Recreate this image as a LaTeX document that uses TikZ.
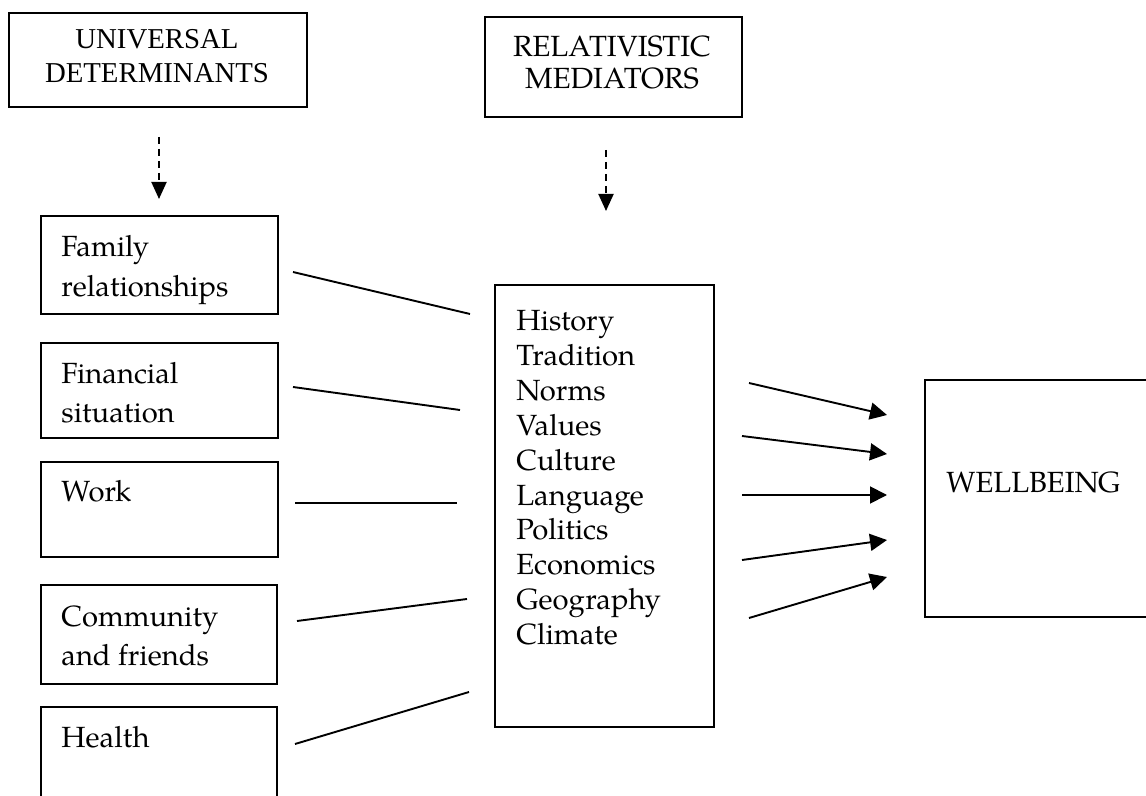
\documentclass[tikz,border=0pt]{standalone}
\usepackage{fontspec}
\setmainfont{TeX Gyre Pagella}
\newfontfamily\timesfont{Liberation Serif}
\usetikzlibrary{arrows.meta}
\tikzset{
  box/.style={draw, line width=1pt, rectangle, inner sep=0pt, anchor=north west},
  txt/.style={inner sep=0pt, anchor=base west, font=\fontsize{14.6}{17.4}\selectfont},
  ctxt/.style={inner sep=0pt, anchor=base, font=\fontsize{14.6}{17.4}\selectfont},
  ttxt/.style={inner sep=0pt, anchor=base, font=\timesfont\fontsize{14.4}{17}\selectfont},
  conn/.style={line width=0.95pt},
  arr/.style={line width=0.95pt, -{Triangle[length=8.5pt,width=8.5pt]}},
  darr/.style={line width=0.95pt, dash pattern=on 3.5pt off 2.5pt, -{Triangle[length=8.5pt,width=7.5pt]}}
}
\begin{document}
\begin{tikzpicture}[x=0.5pt,y=-0.5pt]
\useasboundingbox (0,0) rectangle (1146,796);
\clip (0,0) rectangle (1146,796);
% top boxes
\node[box, minimum width=149pt, minimum height=47pt] (ud) at (8,12) {};
\node[ttxt] (udt1) at (157,49) {UNIVERSAL};
\node[ttxt] (udt2) at (157,83) {DETERMINANTS};
\node[box, minimum width=128.5pt, minimum height=50pt] (rm) at (484,16) {};
\node[ctxt] (rmt1) at (612,57) {RELATIVISTIC};
\node[ctxt] (rmt2) at (612,89) {MEDIATORS};
% dashed arrows
\coordinate (uda) at (159,137);
\coordinate (udb) at (159,199);
\draw[darr] (uda) -- (udb);
\coordinate (rma) at (606,150);
\coordinate (rmb) at (606,211);
\draw[darr] (rma) -- (rmb);
% left boxes
\node[box, minimum width=118.5pt, minimum height=49pt] (fam) at (40,215) {};
\node[txt] (famt1) at (61,257) {Family};
\node[txt] (famt2) at (61,297) {relationships};
\node[box, minimum width=118.5pt, minimum height=47.5pt] (fin) at (40,342) {};
\node[txt] (fint1) at (61,384) {Financial};
\node[txt] (fint2) at (61,423) {situation};
\node[box, minimum width=118.5pt, minimum height=47.5pt] (work) at (40,461) {};
\node[txt] (workt1) at (61,502) {Work};
\node[box, minimum width=118pt, minimum height=49.5pt] (com) at (40,584) {};
\node[txt] (comt1) at (61,626) {Community};
\node[txt] (comt2) at (61,665) {and friends};
\node[box, minimum width=118pt, minimum height=60pt] (hea) at (40,706) {};
\node[txt] (heat1) at (61,747) {Health};
% middle box
\node[box, minimum width=109.5pt, minimum height=221pt] (mid) at (494,284) {};
\foreach \t [count=\i from 0] in {History,Tradition,Norms,Values,Culture,Language,Politics,Economics,Geography,Climate}
  \node[txt] (m\i) at (516,{331+\i*34.8}) {\t};
% right box
\node[box, minimum width=130pt, minimum height=118.5pt] (wb) at (924,379) {};
\node[txt] (wbt) at (946,493) {WELLBEING};
% connectors left -> middle
\coordinate (l1a) at (293,272); \coordinate (l1b) at (470,314);
\coordinate (l2a) at (293,387); \coordinate (l2b) at (460,410);
\coordinate (l3a) at (295,503); \coordinate (l3b) at (457,503);
\coordinate (l4a) at (297,621); \coordinate (l4b) at (467,599);
\coordinate (l5a) at (295,744); \coordinate (l5b) at (469,692);
\foreach \k in {1,...,5} \draw[conn] (l\k a) -- (l\k b);
% arrows middle -> wellbeing
\coordinate (r1a) at (749,383); \coordinate (r1b) at (887,415);
\coordinate (r2a) at (742,436); \coordinate (r2b) at (887,454);
\coordinate (r3a) at (742,495); \coordinate (r3b) at (887,495);
\coordinate (r4a) at (742,560); \coordinate (r4b) at (887,540);
\coordinate (r5a) at (749,618); \coordinate (r5b) at (887,577);
\foreach \k in {1,...,5} \draw[arr] (r\k a) -- (r\k b);
\end{tikzpicture}
\end{document}
